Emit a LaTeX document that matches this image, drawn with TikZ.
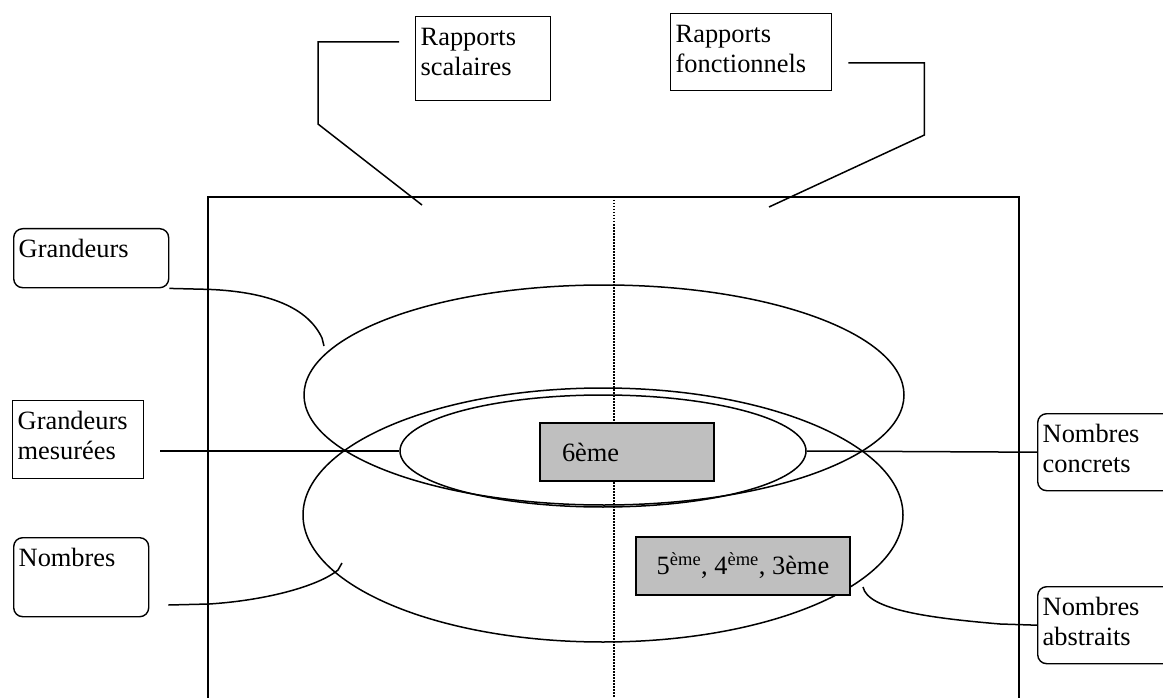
\documentclass[tikz,border=0pt]{standalone}
\usepackage{fontspec}
\setmainfont{Liberation Serif}
\usetikzlibrary{shapes.geometric}
\newcommand\lblfont{\fontsize{26.4}{30}\selectfont}
\newcommand\bt[3]{\parbox[t][#2pt][t]{#1pt}{\raggedright\strut #3}}
\begin{document}
\begin{tikzpicture}[x=1pt,y=-1pt,
  lbl/.style={draw, anchor=north west, inner xsep=5pt, inner ysep=8pt, font=\lblfont, line width=1.4pt},
  rlbl/.style={lbl, rounded corners=9pt},
  gbox/.style={draw, fill=black!25, font=\lblfont, line width=1.6pt, inner sep=0pt},
  ell/.style={draw, ellipse, inner sep=0pt, line width=1.5pt},
  conn/.style={line width=1.5pt},
  ]
\useasboundingbox (0,0) rectangle (1163,698);
% frame
\draw[conn] (208,720) -- (208,197) -- (1019,197) -- (1019,720);
\draw[line width=1.5pt, dash pattern=on 1.5pt off 1.5pt] (614,200) -- (614,720);
% ellipses
\node[ell, minimum width=600, minimum height=220] (gr) at (604,395) {};
\node[ell, minimum width=600, minimum height=254] (nb) at (603,515) {};
\node[ell, minimum width=406, minimum height=112] (gm) at (603,451) {};
% labels
\node[lbl]  (rs)   at (415,16)   {\bt{125}{68}{Rapports\\scalaires}};
\node[lbl]  (rf)   at (670,13)   {\bt{151}{61}{Rapports\\fonctionnels}};
\node[rlbl] (g)    at (13,228)   {\bt{145}{43}{Grandeurs}};
\node[lbl]  (gmes) at (12,400)   {\bt{121}{62}{Grandeurs\\mesurées}};
\node[rlbl] (n)    at (13,537)   {\bt{125}{63}{Nombres}};
\node[rlbl] (nc)   at (1037,413) {\bt{133}{61}{Nombres\\concrets}};
\node[rlbl] (na)   at (1037,586) {\bt{133}{61}{Nombres\\abstraits}};
% free ends
\coordinate (rsend) at (422,205);
\coordinate (rfend) at (769,207);
\coordinate (gend)  at (324,346);
\coordinate (nend)  at (342,563);
\coordinate (naend) at (863,587);
% connectors
\draw[conn] ([shift={(-16,26)}]rs.north west) -- ++(-81,0) -- ++(0,82) -- (rsend);
\draw[conn] ([shift={(16,50)}]rf.north east) -- ++(76,0) -- ++(0,72) -- (rfend);
\draw[conn] (g.south east) -- ++(40,1) .. controls (270,292) and (308,308) .. (322,338) -- (gend);
\draw[conn] ([shift={(16,51)}]gmes.north east) -- (gm.west);
\draw[conn] ([shift={(19,68)}]n.north east) -- ++(41,-1) .. controls (270,600) and (320,585) .. (338,570) -- (nend);
\draw[conn] (gm.east) -- (nc.west);
\draw[conn] (naend) .. controls (868,610) and (930,618) .. (1000,624) -- (na.west);
% grey boxes
\node[gbox, minimum width=174, minimum height=58, text width=130, align=left, inner xsep=22pt] (six) at (627,452) {6ème};
\node[gbox, minimum width=214, minimum height=58] (cinq) at (743,566) {5\textsuperscript{ème}, 4\textsuperscript{ème}, 3ème};
\end{tikzpicture}
\end{document}
